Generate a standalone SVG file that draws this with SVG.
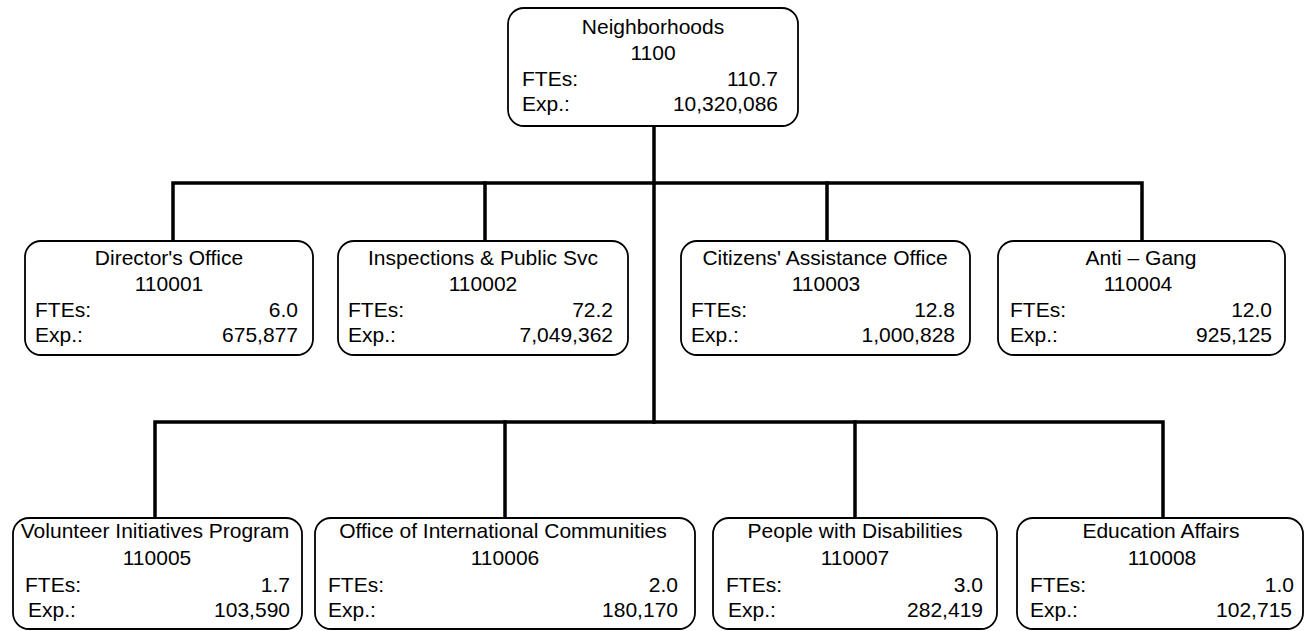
<svg xmlns="http://www.w3.org/2000/svg" width="1305" height="631" viewBox="0 0 1305 631">
<style>
.box{fill:#fff;stroke:#000;stroke-width:1.8}
.t{font-family:"Liberation Sans",Arial,sans-serif;font-size:21px;fill:#000}
.c{text-anchor:middle}
.r{text-anchor:end}
.ln{stroke:#000;stroke-width:3.5;fill:none;stroke-linecap:square}
</style>
<rect width="1305" height="631" fill="#fff"/>
<g id="connectors">
<path class="ln" d="M654,126 V422"/>
<path class="ln" d="M173,240 V183 H1142 V240"/>
<path class="ln" d="M485,183 V240 M827,183 V240"/>
<path class="ln" d="M155,518 V422 H1163 V518"/>
<path class="ln" d="M505,422 V518 M855,422 V518"/>
</g>
<g id="n1100">
<rect class="box" x="508" y="8" width="290" height="118" rx="16"/>
<text class="t c" x="653" y="34">Neighborhoods</text>
<text class="t c" x="653" y="60">1100</text>
<text class="t" x="522" y="86">FTEs:</text><text class="t r" x="778" y="86">110.7</text>
<text class="t" x="522" y="111">Exp.:</text><text class="t r" x="778" y="111">10,320,086</text>
</g>
<g id="n110001">
<rect class="box" x="25" y="241" width="288" height="114" rx="16"/>
<text class="t c" x="169" y="265">Director's Office</text>
<text class="t c" x="169" y="291">110001</text>
<text class="t" x="35" y="317">FTEs:</text><text class="t r" x="298" y="317">6.0</text>
<text class="t" x="35" y="342">Exp.:</text><text class="t r" x="298" y="342">675,877</text>
</g>
<g id="n110002">
<rect class="box" x="338" y="241" width="290" height="114" rx="16"/>
<text class="t c" x="483" y="265">Inspections &amp; Public Svc</text>
<text class="t c" x="483" y="291">110002</text>
<text class="t" x="348" y="317">FTEs:</text><text class="t r" x="613" y="317">72.2</text>
<text class="t" x="348" y="342">Exp.:</text><text class="t r" x="613" y="342">7,049,362</text>
</g>
<g id="n110003">
<rect class="box" x="681" y="241" width="289" height="114" rx="16"/>
<text class="t c" x="825" y="265">Citizens' Assistance Office</text>
<text class="t c" x="826" y="291">110003</text>
<text class="t" x="691" y="317">FTEs:</text><text class="t r" x="955" y="317">12.8</text>
<text class="t" x="691" y="342">Exp.:</text><text class="t r" x="955" y="342">1,000,828</text>
</g>
<g id="n110004">
<rect class="box" x="998" y="241" width="287" height="114" rx="16"/>
<text class="t c" x="1141" y="265">Anti – Gang</text>
<text class="t c" x="1138" y="291">110004</text>
<text class="t" x="1010" y="317">FTEs:</text><text class="t r" x="1272" y="317">12.0</text>
<text class="t" x="1010" y="342">Exp.:</text><text class="t r" x="1272" y="342">925,125</text>
</g>
<g id="n110005">
<rect class="box" x="13" y="518" width="289" height="111" rx="16"/>
<text class="t c" x="155" y="538">Volunteer Initiatives Program</text>
<text class="t c" x="157" y="565">110005</text>
<text class="t" x="25" y="592">FTEs:</text><text class="t r" x="290" y="592">1.7</text>
<text class="t" x="28" y="617">Exp.:</text><text class="t r" x="290" y="617">103,590</text>
</g>
<g id="n110006">
<rect class="box" x="315" y="518" width="380" height="111" rx="16"/>
<text class="t c" x="503" y="538">Office of International Communities</text>
<text class="t c" x="505" y="565">110006</text>
<text class="t" x="328" y="592">FTEs:</text><text class="t r" x="678" y="592">2.0</text>
<text class="t" x="328" y="617">Exp.:</text><text class="t r" x="678" y="617">180,170</text>
</g>
<g id="n110007">
<rect class="box" x="713" y="518" width="284" height="111" rx="16"/>
<text class="t c" x="855" y="538">People with Disabilities</text>
<text class="t c" x="855" y="565">110007</text>
<text class="t" x="726" y="592">FTEs:</text><text class="t r" x="983" y="592">3.0</text>
<text class="t" x="728" y="617">Exp.:</text><text class="t r" x="983" y="617">282,419</text>
</g>
<g id="n110008">
<rect class="box" x="1017" y="518" width="286" height="111" rx="16"/>
<text class="t c" x="1161" y="538">Education Affairs</text>
<text class="t c" x="1162" y="565">110008</text>
<text class="t" x="1030" y="592">FTEs:</text><text class="t r" x="1294" y="592">1.0</text>
<text class="t" x="1030" y="617">Exp.:</text><text class="t r" x="1292" y="617">102,715</text>
</g>
</svg>
